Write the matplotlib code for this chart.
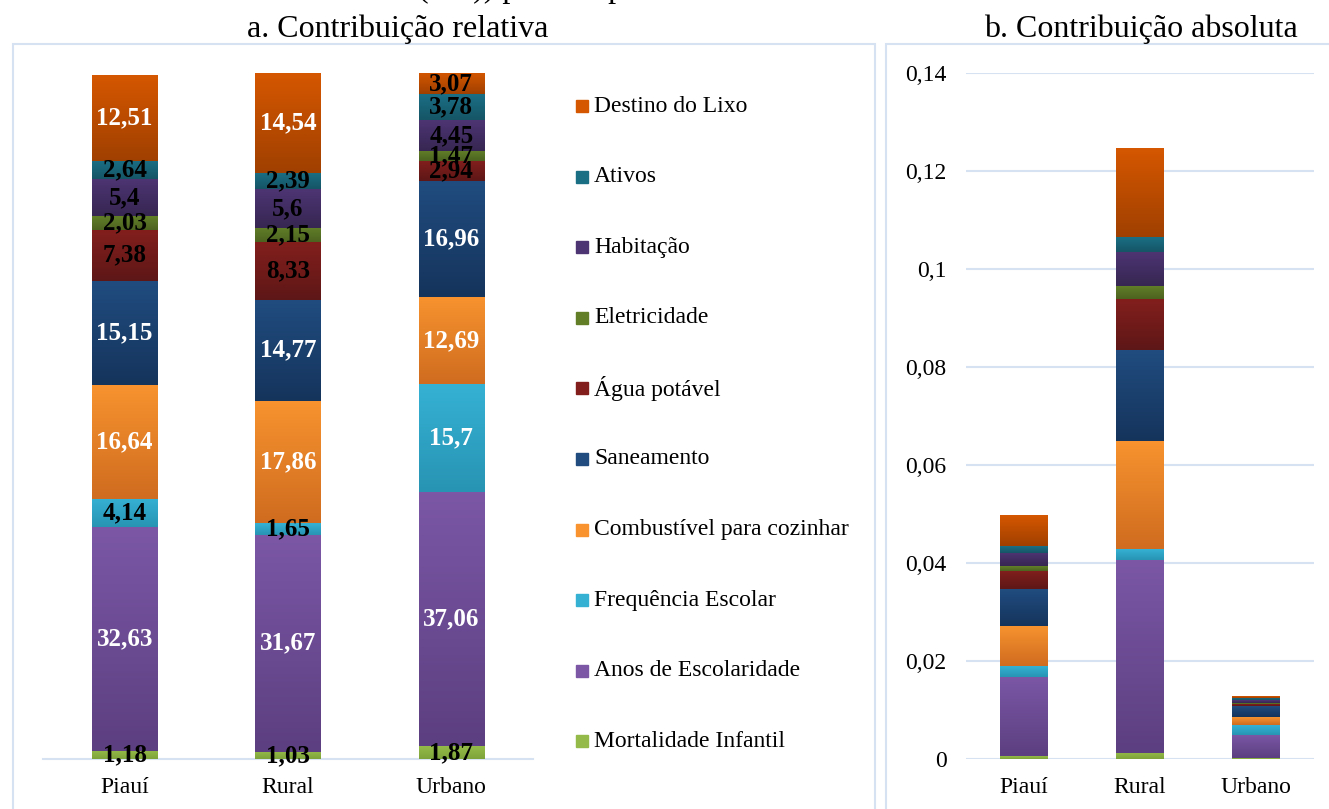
import matplotlib.pyplot as plt
from matplotlib.patches import Rectangle
from matplotlib.colors import LinearSegmentedColormap
import numpy as np

# ── Data ─────────────────────────────────────────────────────
categories = ["Piauí", "Rural", "Urbano"]

indicators = ["Mortalidade Infantil", "Anos de Escolaridade", "Frequência Escolar",
              "Combustível para cozinhar", "Saneamento", "Água potável",
              "Eletricidade", "Habitação", "Ativos", "Destino do Lixo"]

# relative contribution (%), bottom -> top
rel_piaui  = [1.18, 32.63, 4.14, 16.64, 15.15, 7.38, 2.03, 5.4, 2.64, 12.51]
rel_rural  = [1.03, 31.67, 1.65, 17.86, 14.77, 8.33, 2.15, 5.6, 2.39, 14.54]
rel_urbano = [1.87, 37.06, 15.7, 12.69, 16.96, 2.94, 1.47, 4.45, 3.78, 3.07]
rel_labels = [["1,18", "32,63", "4,14", "16,64", "15,15", "7,38", "2,03", "5,4", "2,64", "12,51"],
              ["1,03", "31,67", "1,65", "17,86", "14,77", "8,33", "2,15", "5,6", "2,39", "14,54"],
              ["1,87", "37,06", "15,7", "12,69", "16,96", "2,94", "1,47", "4,45", "3,78", "3,07"]]

# absolute contribution, bottom -> top
abs_piaui  = [0.0006, 0.0162, 0.0021, 0.0083, 0.0075, 0.0037, 0.0010, 0.0027, 0.0013, 0.0062]
abs_rural  = [0.0013, 0.0394, 0.0021, 0.0222, 0.0184, 0.0104, 0.0027, 0.0070, 0.0030, 0.0181]
abs_urbano = [0.0002, 0.0048, 0.0020, 0.0016, 0.0022, 0.0004, 0.0002, 0.0006, 0.0005, 0.0004]

yticks_abs = [0, 0.02, 0.04, 0.06, 0.08, 0.10, 0.12, 0.14]
ytick_labels_abs = ["0", "0,02", "0,04", "0,06", "0,08", "0,1", "0,12", "0,14"]

# gradient fills (top colour, bottom colour) per indicator
colors_top = ["#94bb49", "#7b57a6", "#35b1d4", "#f8932f", "#204c7f",
              "#821f1d", "#627f28", "#4d3573", "#1b6f85", "#d55700"]
colors_bot = ["#7ea33a", "#5c3f80", "#2894b3", "#cf6c1f", "#15345c",
              "#5e1717", "#4c6320", "#372652", "#155566", "#a04000"]

# ── Setup ────────────────────────────────────────────────────
W, H = 1329, 809
plt.rcParams["font.family"] = ["Liberation Serif", "DejaVu Serif"]
fig = plt.figure(figsize=(W / 100, H / 100), dpi=100)
fig.patch.set_facecolor("white")


def px_axes(x0, y0, x1, y1):
    # pixel box (top-left origin) -> figure axes
    return fig.add_axes([x0 / W, 1 - y1 / H, (x1 - x0) / W, (y1 - y0) / H])


def gradient_bars(ax, bars, c_top, c_bot):
    # paint each bar with a vertical gradient, light at top
    cmap = LinearSegmentedColormap.from_list("g", [c_bot, c_top])
    grad = np.linspace(0, 1, 64).reshape(-1, 1)
    for b in bars:
        x0, y0 = b.get_x(), b.get_y()
        w, h = b.get_width(), b.get_height()
        if h <= 0:
            continue
        ax.imshow(grad, cmap=cmap, extent=[x0, x0 + w, y0, y0 + h],
                  origin="lower", aspect="auto", zorder=b.get_zorder(),
                  interpolation="bilinear")


frame_col = "#d6e2f2"
fig.patches.append(Rectangle((13 / W, -0.05), (875 - 13) / W, 1.05 - 44 / H,
                             transform=fig.transFigure, fill=False,
                             edgecolor=frame_col, linewidth=1.5))
fig.patches.append(Rectangle((886 / W, -0.05), 0.5, 1.05 - 44 / H,
                             transform=fig.transFigure, fill=False,
                             edgecolor=frame_col, linewidth=1.5))

# cropped heading at very top (only descenders visible)
fig.text(418 / W, 1 + 3 / H, "(M0)) por componente", fontsize=23,
         ha="left", va="baseline")

fig.text(398 / W, 1 - 37 / H, "a. Contribuição relativa", fontsize=23,
         ha="center", va="baseline")
fig.text(1141 / W, 1 - 37 / H, "b. Contribuição absoluta", fontsize=23,
         ha="center", va="baseline")

x = np.arange(len(categories))

# ── Panel a: relative ────────────────────────────────────────
ax1 = px_axes(43, 73, 533, 759)
rel_all = [rel_piaui, rel_rural, rel_urbano]
bottoms = np.zeros(3)
for i, name in enumerate(indicators):
    vals = np.array([s[i] for s in rel_all])
    bars = ax1.bar(x, vals, bottom=bottoms, width=0.40,
                   color=colors_top[i], label=name, zorder=2)
    gradient_bars(ax1, bars, colors_top[i], colors_bot[i])
    for j in range(3):
        ax1.text(x[j], bottoms[j] + vals[j] / 2, rel_labels[j][i],
                 ha="center", va="center", fontsize=18, fontweight="bold",
                 color="white" if vals[j] > 10 else "black", zorder=5)
    bottoms += vals

ax1.set_xlim(-0.5, 2.5)
ax1.set_ylim(0, 100)
ax1.set_yticks([])
ax1.set_xticks(x)
ax1.set_xticklabels(categories, fontsize=17)
ax1.tick_params(axis="x", length=0, pad=13)
for s in ["top", "right", "left"]:
    ax1.spines[s].set_visible(False)
ax1.spines["bottom"].set_color(frame_col)
ax1.spines["bottom"].set_linewidth(1.5)
ax1.spines["bottom"].set_zorder(1)

# legend drawn by hand, top entry = last indicator
for k, i in enumerate(range(len(indicators) - 1, -1, -1)):
    yc = 106 + k * 70.6
    fig.patches.append(Rectangle((576 / W, 1 - (yc + 6) / H), 12 / W, 12 / H,
                                 transform=fig.transFigure,
                                 color=colors_top[i]))
    fig.text(594 / W, 1 - yc / H, indicators[i], fontsize=17,
             ha="left", va="center")

# ── Panel b: absolute ────────────────────────────────────────
ax2 = px_axes(966, 73, 1314, 759)
abs_all = [abs_piaui, abs_rural, abs_urbano]
bottoms = np.zeros(3)
for i, name in enumerate(indicators):
    vals = np.array([s[i] for s in abs_all])
    bars = ax2.bar(x, vals, bottom=bottoms, width=0.41,
                   color=colors_top[i], zorder=3)
    gradient_bars(ax2, bars, colors_top[i], colors_bot[i])
    bottoms += vals

ax2.set_xlim(-0.5, 2.5)
ax2.set_ylim(0, 0.14)
ax2.set_yticks(yticks_abs)
ax2.set_yticklabels(ytick_labels_abs, fontsize=17)
ax2.set_xticks(x)
ax2.set_xticklabels(categories, fontsize=17)
ax2.tick_params(axis="both", length=0)
ax2.tick_params(axis="y", pad=14)
ax2.tick_params(axis="x", pad=13)
ax2.grid(axis="y", color=frame_col, linewidth=1.5, zorder=0)
ax2.set_axisbelow(True)
for s in ["top", "right", "left", "bottom"]:
    ax2.spines[s].set_visible(False)

fig.savefig("out.png", dpi=100, facecolor="white")
